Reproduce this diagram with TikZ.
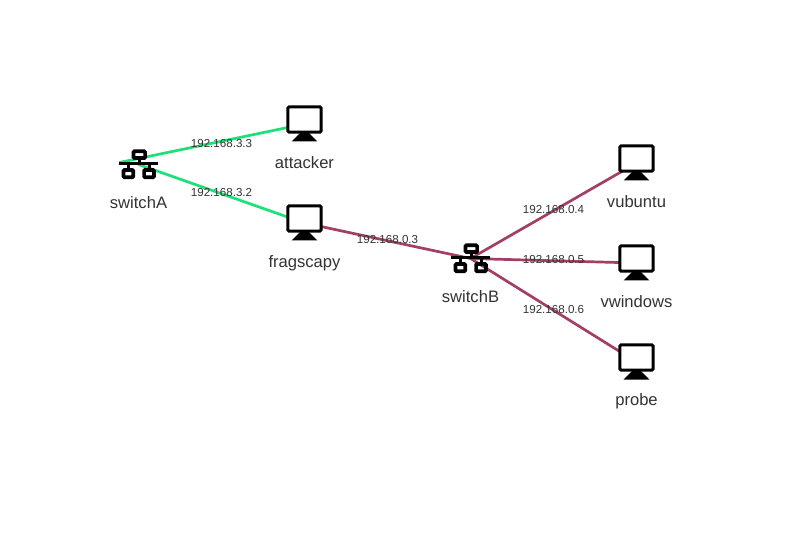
\documentclass[tikz,border=0pt]{standalone}
\usepackage{fontspec}
\setmainfont{Liberation Sans}
\usepackage{tikz}
\definecolor{linkgreen}{RGB}{29,224,120}
\definecolor{linkred}{RGB}{163,62,102}
\definecolor{textgray}{RGB}{51,51,51}
\tikzset{
	devnode/.style={minimum width=38pt,minimum height=34pt,inner sep=0pt},
	namelabel/.style={text=textgray,font=\fontsize{16.6}{20}\selectfont,inner sep=0pt,anchor=base},
	iplabel/.style={text=textgray,font=\fontsize{11.6}{14}\selectfont,inner sep=0pt},
	greenlink/.style={draw=linkgreen,line width=2.7pt},
	redlink/.style={draw=linkred,line width=2.7pt},
	iconbox/.style={draw=black,line width=3.7pt,rounded corners=1pt}
}

\begin{document}
\begin{tikzpicture}[x=1pt,y=-1pt]
			\useasboundingbox (0,0) rectangle (795,545);
			\coordinate (s_a) at (138.5,164.5);
			\coordinate (s_b) at (470.5,258.5);
			\coordinate (h_1) at (304.5,124);
			\coordinate (h_2) at (304.5,223);
			\coordinate (h_3) at (636.5,163);
			\coordinate (h_4) at (636.5,263);
			\coordinate (h_5) at (636.5,362);
			\node[devnode] (switchA) at (s_a) {};
			\node[devnode] (switchB) at (s_b) {};
			\node[devnode] (attacker) at (h_1) {};
			\node[devnode] (fragscapy) at (h_2) {};
			\node[devnode] (vubuntu) at (h_3) {};
			\node[devnode] (vwindows) at (h_4) {};
			\node[devnode] (probe) at (h_5) {};
			% links
			\draw[greenlink] ([yshift=2pt]switchA.west) -- (attacker.center);
			\draw[greenlink] (switchA.center) -- (fragscapy.center);
			\draw[redlink] (fragscapy.center) -- (switchB.center);
			\draw[redlink] (switchB.center) -- (vubuntu.center);
			\draw[redlink] (switchB.center) -- (vwindows.center);
			\draw[redlink] (switchB.center) -- (probe.center);
			% switches
			\foreach \h in {switchA,switchB}{
				\begin{scope}[shift={(\h.center)}]
					\draw[iconbox] (-5,-13.2) rectangle (6.6,-6.4);
					\draw[iconbox] (-15,5.5) rectangle (-5.3,12.8);
					\draw[iconbox] (5.6,5.5) rectangle (15.4,12.8);
					\draw[black,line width=3pt] (-19.5,-0.5) -- (19.5,-0.5);
					\draw[black,line width=3pt] (0.5,-5.5) -- (0.5,-0.5);
					\draw[black,line width=3pt] (-10.5,-0.5) -- (-10.5,5.5);
					\draw[black,line width=3pt] (10.5,-0.5) -- (10.5,5.5);
				\end{scope}
			}
			% monitors
			\foreach \h in {attacker,fragscapy,vubuntu,vwindows,probe}{
				\begin{scope}[shift={(\h.center)}]
					\draw[draw=black,line width=3pt,rounded corners=1.5pt,fill=white] (-16.7,-17.2) rectangle (16.7,8.2);
					\fill[black] (-4.5,9) -- (4.5,9) -- (12.8,17.5) -- (-12.8,17.5) -- cycle;
				\end{scope}
			}
			% addresses
			\node[iplabel] (ip33) at (221.5,144) {192.168.3.3};
			\node[iplabel] (ip32) at (221.5,193) {192.168.3.2};
			\node[iplabel] (ip03) at (387.5,240) {192.168.0.3};
			\node[iplabel] (ip04) at (553.5,210) {192.168.0.4};
			\node[iplabel] (ip05) at (553.5,260) {192.168.0.5};
			\node[iplabel] (ip06) at (553.5,310) {192.168.0.6};
			% names under the icons
			\node[namelabel] (lbl_a) at (138.5,208.5) {switchA};
			\node[namelabel] (lbl_b) at (470.5,302.5) {switchB};
			\node[namelabel] (lbl_1) at (304.5,168.5) {attacker};
			\node[namelabel] (lbl_2) at (304.5,267.5) {fragscapy};
			\node[namelabel] (lbl_3) at (636.5,207.5) {vubuntu};
			\node[namelabel] (lbl_4) at (636.5,307.5) {vwindows};
			\node[namelabel] (lbl_5) at (636.5,405.5) {probe};
		\end{tikzpicture}
\end{document}
